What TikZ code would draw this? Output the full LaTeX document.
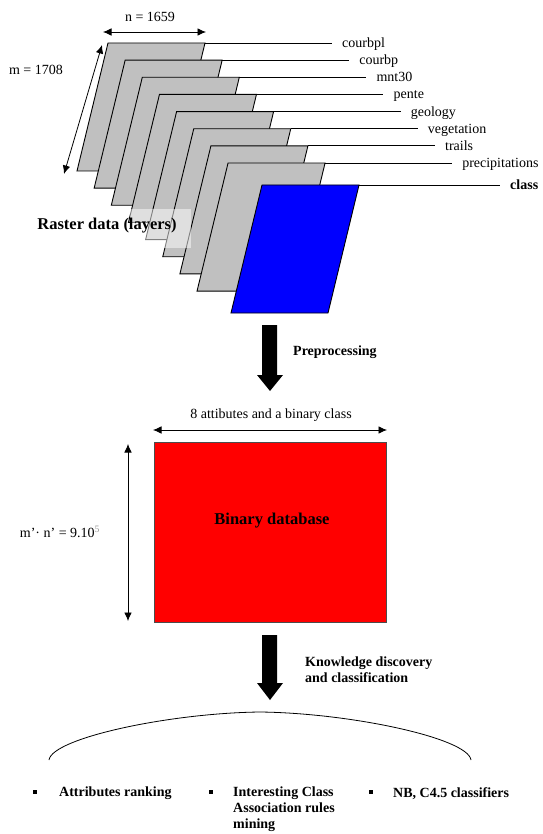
\documentclass[tikz,border=0pt]{standalone}
\usepackage{fontspec}
\setmainfont{Liberation Serif}
\usetikzlibrary{arrows.meta}
\definecolor{layergray}{HTML}{C0C0C0}
\definecolor{layerblue}{HTML}{0000FF}
\definecolor{dbred}{HTML}{FF0000}
\tikzset{
  layer/.style={draw=black, fill=layergray, line width=0.9pt},
  lbl/.style={font=\fontsize{14}{16}\selectfont, inner sep=0pt},
  boldlbl/.style={font=\fontsize{14}{16}\selectfont\bfseries, inner sep=0pt},
  biglbl/.style={font=\fontsize{16.5}{19}\selectfont\bfseries, inner sep=0pt},
  dim/.style={line width=0.8pt, {Latex[length=8.5pt,width=7.5pt]}-{Latex[length=8.5pt,width=7.5pt]}},
  blockarrow/.style={fill=black},
  bulletsq/.style={fill=black, minimum size=3.5pt, inner sep=0pt},
}
\begin{document}
\begin{tikzpicture}[x=1pt,y=-1pt]
\useasboundingbox (0,0) rectangle (542,834);

% layers
\foreach \k/\name in {0/courbpl,1/courbp,2/mnt30,3/pente,4/geology,5/vegetation,6/trails,7/precipitations}{
  \pgfmathsetmacro\xo{108+17.15*\k}
  \pgfmathsetmacro\yo{43+17.15*\k}
  \draw[layer] (\xo,\yo) -- ++(97,0) -- ++(-31,128) -- ++(-97,0) -- cycle;
  \coordinate (tr\k) at (\xo+97,\yo);
  \node[lbl, anchor=base west] (l\k) at (\xo+234,\yo+4.5) {\name};
  \draw[line width=0.9pt] (tr\k) -- ([xshift=-10pt]l\k.base west |- tr\k);
}
% class layer
\draw[layer, fill=layerblue] (262,185) -- (359,185) -- (328,313) -- (231,313) -- cycle;
\coordinate (trc) at (359,185);
\node[boldlbl, anchor=base west] (lc) at (510,189.5) {class};
\draw[line width=0.9pt] (trc) -- ([xshift=-10pt]lc.base west |- trc);

% translucent text box
\fill[white, opacity=0.5] (130,209) rectangle (191,248);
\node[biglbl] (raster) at (107,226) {Raster data (layers)};

% dimensions of raster
\node[lbl] (nlbl) at (150,17) {n = 1659};
\coordinate (n1) at (103,32);
\coordinate (n2) at (206,32);
\draw[dim] (n1) -- (n2);
\node[lbl] (mlbl) at (36,70) {m = 1708};
\coordinate (m1) at (102,45);
\coordinate (m2) at (64,174);
\draw[dim] (m1) -- (m2);

% preprocessing arrow
\fill[blockarrow] (262,325) -- (277,325) -- (277,375) -- (283,375) -- (270,391) -- (257,375) -- (262,375) -- cycle;
\node[boldlbl, anchor=west] (pre) at (293,352) {Preprocessing};

% binary database
\node[lbl] (attr) at (271,415) {8 attibutes and a binary class};
\coordinate (h1) at (153,430);
\coordinate (h2) at (387,430);
\draw[dim] (h1) -- (h2);
\draw[draw=black!70, fill=dbred, line width=1pt] (154,442) rectangle (386,622);
\node[biglbl] (db) at (272,521) {Binary database};
\coordinate (v1) at (128,444);
\coordinate (v2) at (128,621);
\draw[dim] (v1) -- (v2);
\node[lbl] (mn) at (60,532) {m’· n’ = 9.10\textsuperscript{\textcolor{black!40}{5}}};

% knowledge arrow
\fill[blockarrow] (262,635) -- (277,635) -- (277,683) -- (283,683) -- (270,700) -- (257,683) -- (262,683) -- cycle;
\node[boldlbl, anchor=west, align=left] (kd) at (305,670) {Knowledge discovery\\and classification};

% brace curve
\draw[line width=0.8pt] (49,760) .. controls (52,738) and (170,713) .. (260,712)
  .. controls (350,713) and (468,738) .. (471,760);

% results
\node[bulletsq] (b1) at (35,792) {};
\node[boldlbl, anchor=north west] (r1) at (59,787) {Attributes ranking};
\node[bulletsq] (b2) at (211,792) {};
\node[boldlbl, anchor=north west, align=left] (r2) at (233,787) {Interesting Class\\Association rules\\mining};
\node[bulletsq] (b3) at (371,792) {};
\node[boldlbl, anchor=north west] (r3) at (393,787) {NB, C4.5 classifiers};
\end{tikzpicture}
\end{document}
